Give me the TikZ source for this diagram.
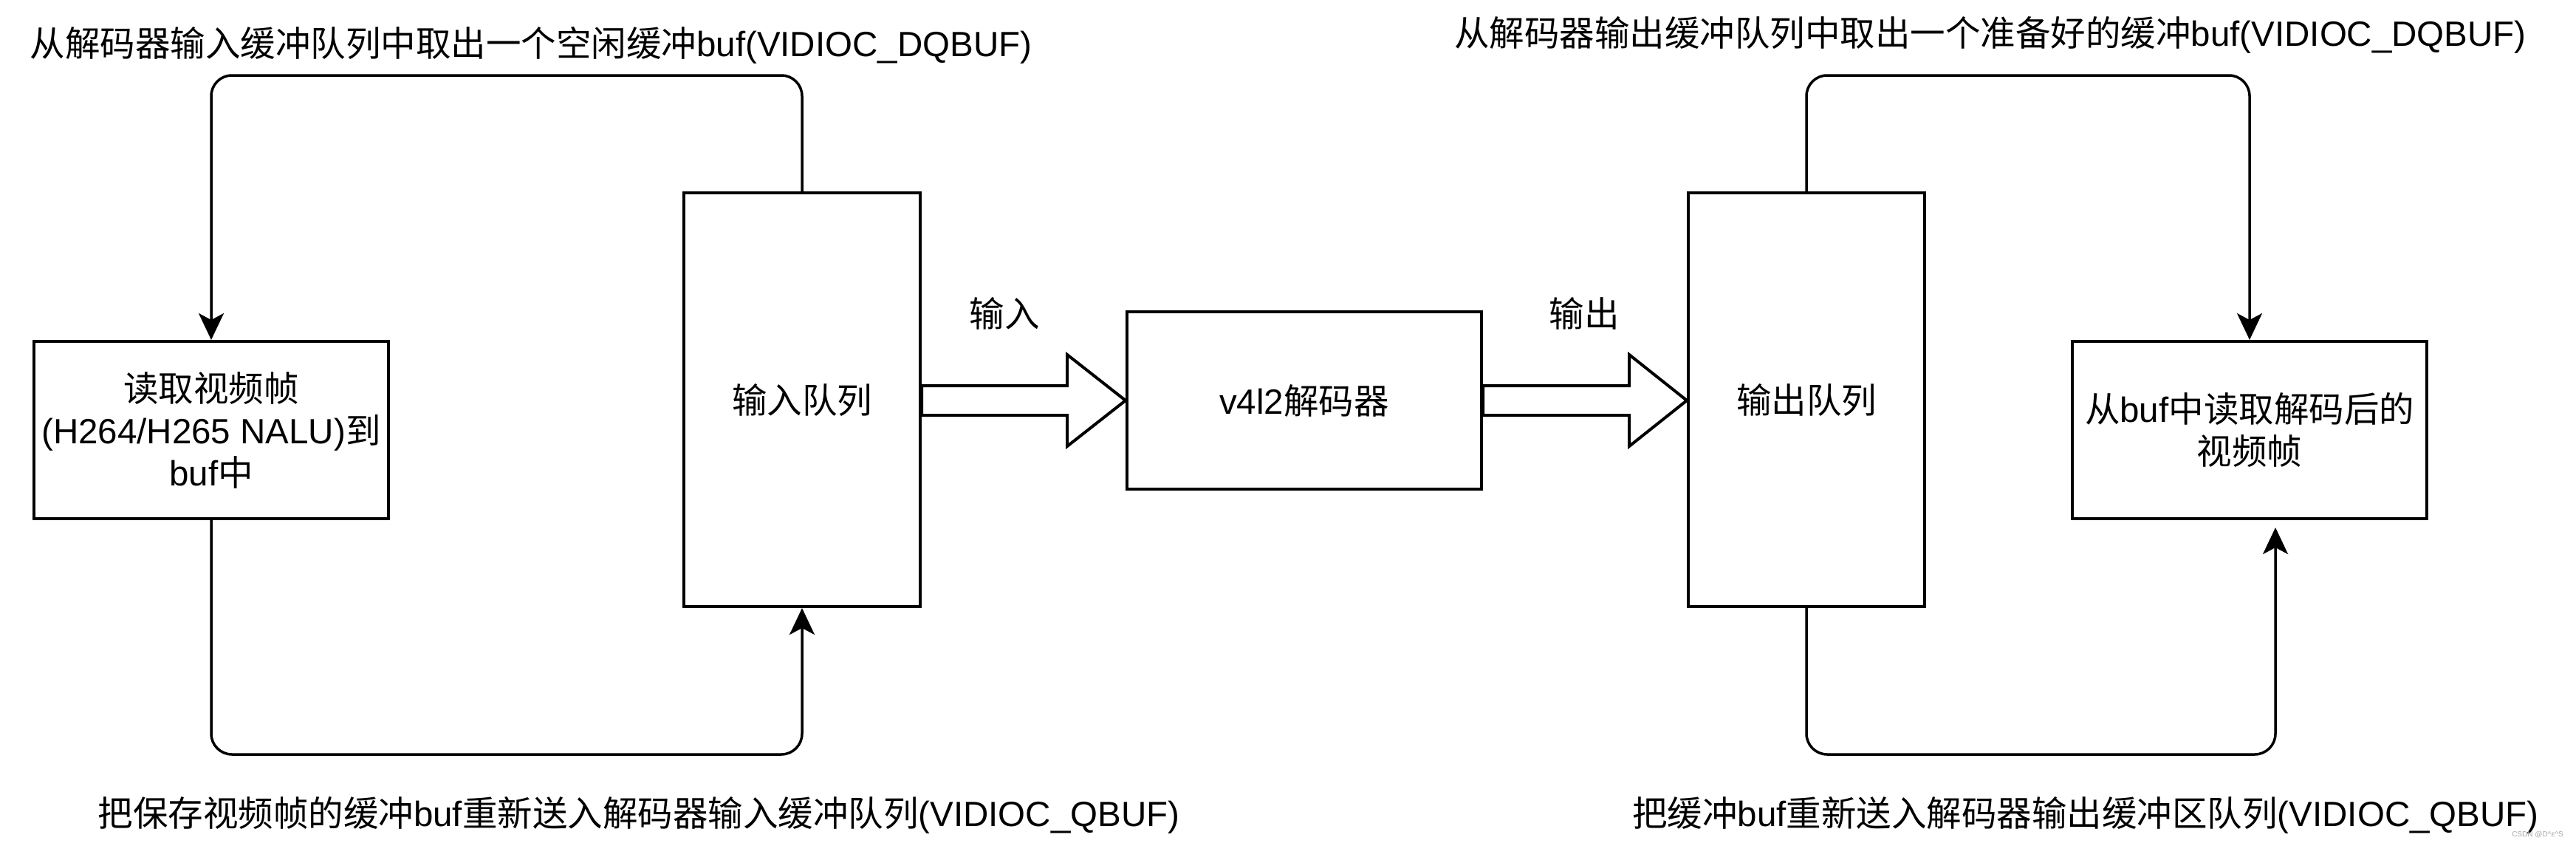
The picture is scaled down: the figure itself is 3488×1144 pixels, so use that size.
\documentclass[tikz,border=0pt]{standalone}
\usepackage{fontspec}
\setmainfont{Liberation Sans}
\newfontfamily\cj{Noto Sans CJK SC}
\newcommand\zh[1]{{\cj #1}}
\newcommand\txtsize{\fontsize{47.5}{57}\selectfont}
\usetikzlibrary{arrows.meta,calc}
\begin{document}
\begin{tikzpicture}[x=1pt,y=-1pt,
  box/.style={draw, line width=4pt, inner sep=0pt, align=center, font=\txtsize},
  wide/.style={box, minimum width=480pt, minimum height=240pt},
  tall/.style={box, minimum width=320pt, minimum height=560pt},
  lbl/.style={inner sep=0pt, font=\txtsize},
  conn/.style={line width=3.5pt, rounded corners=28pt, -{Stealth[length=36pt,width=34pt,inset=9pt]}},
  barrow/.style={line width=4pt, line join=miter, fill=white}]
\useasboundingbox (0,0) rectangle (3488,1144);

\node[wide] (A) at (286,582) {\zh{读取视频帧}\\(H264/H265 NALU)\zh{到}\\buf\zh{中}};
\node[tall] (B) at (1086,541) {\zh{输入队列}};
\node[wide] (C) at (1766,542) {v4l2\zh{解码器}};
\node[tall] (D) at (2446,541) {\zh{输出队列}};
\node[wide] (E) at (3046,582) {\zh{从}buf\zh{中读取解码后的}\\\zh{视频帧}};

% block arrows
\draw[barrow] ($(B.east |- C.west)+(0,-20)$) -- ($(C.west)+(-79,-20)$) -- ($(C.west)+(-79,-62)$) -- (C.west)
  -- ($(C.west)+(-79,62)$) -- ($(C.west)+(-79,20)$) -- ($(B.east |- C.west)+(0,20)$) -- cycle;
\draw[barrow] ($(C.east)+(0,-20)$) -- ($(D.west |- C.east)+(-78,-20)$) -- ($(D.west |- C.east)+(-78,-62)$) -- (D.west |- C.east)
  -- ($(D.west |- C.east)+(-78,62)$) -- ($(D.west |- C.east)+(-78,20)$) -- ($(C.east)+(0,20)$) -- cycle;
\node[lbl] (in) at (1360,424) {\zh{输入}};
\node[lbl] (out) at (2145,424) {\zh{输出}};

% loops
\coordinate (ytop) at (0,102);
\coordinate (ybot) at (0,1021);
\coordinate (Ein) at ([xshift=35pt,yshift=-10pt]E.south);
\draw[conn] (B.north) -- (B.north |- ytop) -- (A.north |- ytop) -- (A.north);
\draw[conn] (A.south) -- (A.south |- ybot) -- (B.south |- ybot) -- (B.south);
\draw[conn] (D.north) -- (D.north |- ytop) -- (E.north |- ytop) -- (E.north);
\draw[conn] (D.south) -- (D.south |- ybot) -- (Ein |- ybot) -- (Ein);

% captions
\node[lbl] (t1) at (719,61) {\zh{从解码器输入缓冲队列中取出一个空闲缓冲}buf(VIDIOC\_DQBUF)};
\node[lbl] (t2) at (2695,47) {\zh{从解码器输出缓冲队列中取出一个准备好的缓冲}buf(VIDIOC\_DQBUF)};
\node[lbl] (b1) at (865,1103) {\zh{把保存视频帧的缓冲}buf\zh{重新送入解码器输入缓冲队列}(VIDIOC\_QBUF)};
\node[lbl] (b2) at (2824,1103) {\zh{把缓冲}buf\zh{重新送入解码器输出缓冲区队列}(VIDIOC\_QBUF)};
\node[inner sep=0pt, font=\fontsize{10}{12}\selectfont, text=black!35] (wm) at (3436,1130) {CSDN @D\^{}\zh{ε}\^{}S};
\end{tikzpicture}
\end{document}
